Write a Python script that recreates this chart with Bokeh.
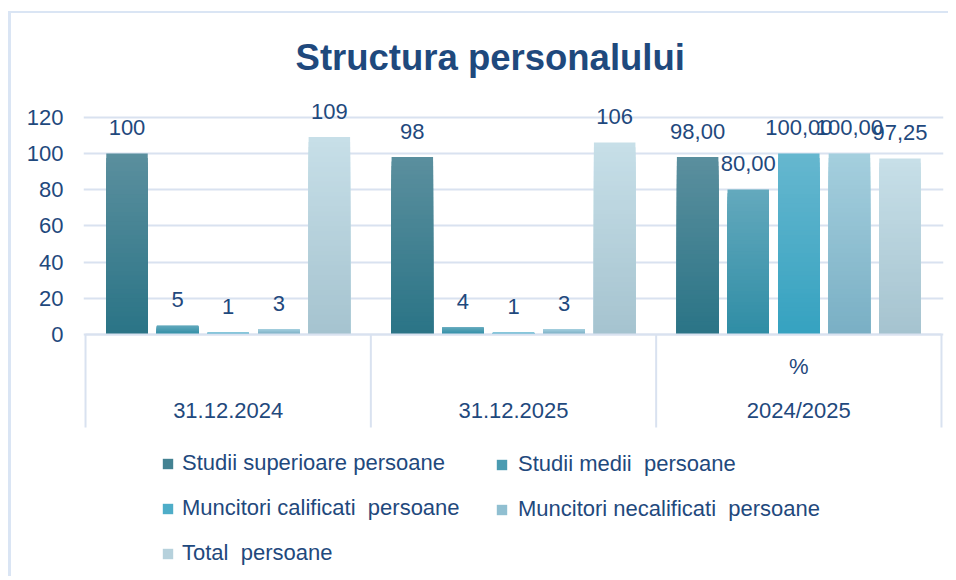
import numpy as np
from bokeh.plotting import figure
from bokeh.models import Range1d, FixedTicker, ColumnDataSource, Legend, LegendItem
from bokeh.core.properties import value
from bokeh.embed import file_html
from bokeh.resources import INLINE

# ---------------- data ----------------
categories = ["31.12.2024", "31.12.2025", "2024/2025"]
sub_categories = ["", "", "%"]
series_names = ["Studii superioare persoane", "Studii medii  persoane",
                "Muncitori calificati  persoane", "Muncitori necalificati  persoane",
                "Total  persoane"]
studii_superioare = [100, 98, 98.00]
studii_medii = [5, 4, 80.00]
muncitori_calificati = [1, 1, 100.00]
muncitori_necalificati = [3, 3, 100.00]
total_persoane = [109, 106, 97.25]
decimals = [0, 0, 2]
y_ticks = [0, 20, 40, 60, 80, 100, 120]

series_values = [studii_superioare, studii_medii, muncitori_calificati,
                 muncitori_necalificati, total_persoane]
# (top colour, bottom colour) of each series' vertical gradient
series_colors = [("#5B8F9E", "#2A7486"), ("#64A9BD", "#2F8DA5"),
                 ("#66B7CF", "#35A2C0"), ("#A5CFDE", "#79AFC4"),
                 ("#C7DFE8", "#A5C3CF")]

TEXT = "#1F497D"
GRID = "#D9E2F0"
FONT = "Liberation Sans"

# ---------------- layout constants ----------------
G = 5.64          # width of one category group (bar pitch = 1)
PAD = 0.82        # boundary -> first bar centre
BW = 0.82         # bar width
N = 40            # gradient steps

W, H = 940, 565
p = figure(width=W, height=H, output_backend="svg", toolbar_location=None,
           x_range=Range1d(-0.04, 3 * G + 0.04), y_range=Range1d(-134.73, 177.25),
           x_axis_location=None, title=None,
           min_border_left=72, min_border_right=8, min_border_top=0, min_border_bottom=0)
p.styles = {"border-left": "3px solid #DAE5F4", "border-top": "2px solid #DAE5F4",
            "margin-left": "8px", "margin-top": "11px"}
p.outline_line_color = None
p.background_fill_color = "white"
p.border_fill_color = "white"

p.xgrid.visible = False
p.ygrid.ticker = FixedTicker(ticks=y_ticks)
p.ygrid.grid_line_color = GRID
p.ygrid.grid_line_width = 2

ax = p.yaxis[0]
ax.ticker = FixedTicker(ticks=y_ticks)
ax.axis_line_color = None
ax.major_tick_line_color = None
ax.minor_tick_line_color = None
ax.major_tick_out = 0
ax.major_tick_in = 0
ax.major_label_standoff = 20
ax.major_label_text_font = FONT
ax.major_label_text_font_size = "22px"
ax.major_label_text_color = TEXT


def hex2rgb(h):
    h = h.lstrip("#")
    return np.array([int(h[i:i + 2], 16) for i in (0, 2, 4)], dtype=float)


def rgb2hex(c):
    return "#%02x%02x%02x" % tuple(int(round(v)) for v in c)


renderers = []
for s, (vals, (ctop, cbot)) in enumerate(zip(series_values, series_colors)):
    top_rgb, bot_rgb = hex2rgb(ctop), hex2rgb(cbot)
    left, right, top, color = [], [], [], []
    for g, v in enumerate(vals):
        xc = g * G + PAD + s
        for k in reversed(range(N)):
            t = (k + 0.5) / N
            left.append(xc - BW / 2)
            right.append(xc + BW / 2)
            top.append(v * (k + 1) / N)
            color.append(rgb2hex(bot_rgb + (top_rgb - bot_rgb) * t))
    src = ColumnDataSource(dict(left=left, right=right, top=top,
                                bottom=[0] * len(top), color=color))
    r = p.quad(left="left", right="right", top="top", bottom="bottom",
               fill_color="color", line_color=None, source=src)
    renderers.append(r)

    # data labels
    lx = [g * G + PAD + s for g in range(len(vals))]
    ltxt = [("{:.%df}" % decimals[g]).format(v).replace(".", ",") for g, v in enumerate(vals)]
    p.text(x=lx, y=vals, text=ltxt, text_align="center", text_baseline="middle",
           y_offset=-26, text_font=value(FONT), text_font_size="22px", text_color=TEXT)

# category axis (two levels) with separators
bounds = [g * G for g in range(len(categories) + 1)]
p.segment(x0=bounds, x1=bounds, y0=[0] * len(bounds), y1=[-51.35] * len(bounds),
          line_color=GRID, line_width=2)
p.segment(x0=[0], x1=[3 * G], y0=[0], y1=[0], line_color=GRID, line_width=2)
centers = [g * G + G / 2 for g in range(len(categories))]
p.text(x=centers, y=[-42.0] * len(centers), text=categories, text_align="center",
       text_baseline="middle", text_font=value(FONT), text_font_size="22px", text_color=TEXT)
p.text(x=centers, y=[-17.6] * len(centers), text=sub_categories, text_align="center",
       text_baseline="middle", text_font=value(FONT), text_font_size="22px", text_color=TEXT)

# title
p.text(x=[8.0], y=[153.0], text=["Structura personalului"], text_align="center",
       text_baseline="middle", text_font=value(FONT), text_font_size="36.5px",
       text_font_style="bold", text_color=TEXT)

# legend (two columns, row-major order as in the reference)
mid_idx = N - 1 - N // 2


def make_legend(idx_list, loc, standoff):
    items = [LegendItem(label=series_names[i], renderers=[renderers[i]], index=mid_idx)
             for i in idx_list]
    lg = Legend(items=items, location=loc, orientation="vertical",
                label_text_font=FONT, label_text_font_size="22px", label_text_color=TEXT,
                glyph_width=13, glyph_height=13, label_standoff=standoff, label_height=24,
                spacing=19, padding=0, margin=0, background_fill_alpha=0,
                border_line_color=None)
    p.add_layout(lg)


make_legend([0, 2, 4], (78, 12), 8)
make_legend([1, 3], (412, 56), 10)

open("out.html", "w").write(file_html(p, INLINE))
